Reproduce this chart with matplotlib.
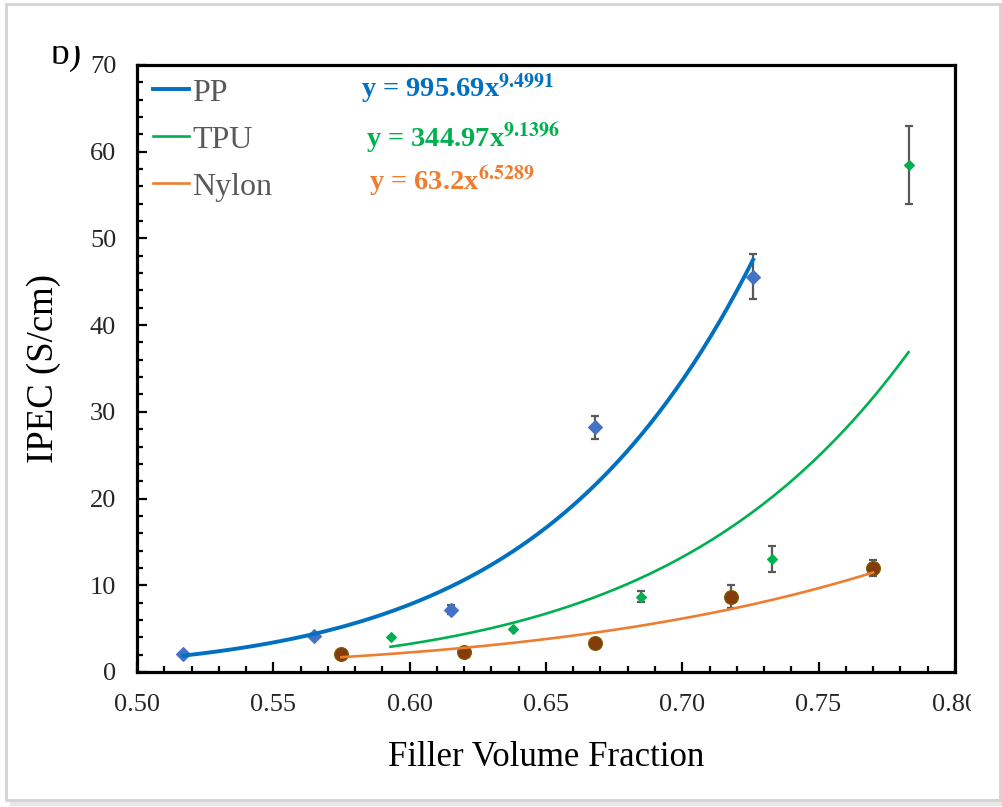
import numpy as np
import matplotlib
matplotlib.use("Agg")
import matplotlib.pyplot as plt
from matplotlib.patches import Rectangle
from matplotlib.transforms import Bbox, TransformedBbox

plt.rcParams['font.family'] = ['Liberation Serif', 'DejaVu Serif']
plt.rcParams['mathtext.fontset'] = 'stix'

# veri
ppX = [0.517, 0.565, 0.615, 0.668, 0.726]
ppY = [2.1, 4.2, 7.2, 28.2, 45.6]
ppErr = [0.0, 0.0, 0.5, 1.3, 2.6]

tpuX = [0.593, 0.638, 0.685, 0.733, 0.783]
tpuY = [4.0, 5.0, 8.7, 13.0, 58.5]
tpuErr = [0.0, 0.0, 0.6, 1.5, 4.5]

nylonX = [0.575, 0.620, 0.668, 0.718, 0.770]
nylonY = [2.1, 2.3, 3.3, 8.7, 12.0]
nylonErr = [0.0, 0.0, 0.0, 1.3, 0.9]

# trend cizgisi katsayilari (y = a * x^b)
ppFit = [995.69, 9.4991]
tpuFit = [344.97, 9.1396]
nylonFit = [63.2, 6.5289]

etiketler = ["PP", "TPU", "Nylon"]
denklemler = [r"y = 995.69x$^{\mathbf{9.4991}}$",
              r"y = 344.97x$^{\mathbf{9.1396}}$",
              r"y = 63.2x$^{\mathbf{6.5289}}$"]

cizgiRenk = ["#0070C0", "#00B050", "#ED7D31"]
noktaRenk = ["#4472C4", "#00B050", "#843C0C"]
hataRenk = "#595959"

W, H = 1003, 807
fig = plt.figure(figsize=(W / 100, H / 100), dpi=100)
ax = fig.add_axes([0.1366, 0.1673, 0.8154, 0.7522])

seriler = [
    (ppX, ppY, ppErr, ppFit, "D", 6.8, 2.8),
    (tpuX, tpuY, tpuErr, tpuFit, "D", 5.6, 1.9),
    (nylonX, nylonY, nylonErr, nylonFit, "o", 10, 1.9),
]

for i, (xs, ys, es, fit, mk, ms, lw) in enumerate(seriler):
    ax.errorbar(xs, ys, yerr=es, fmt="none", ecolor=hataRenk, elinewidth=1.6,
                capsize=3, capthick=1.6, zorder=2)
    ax.plot(xs, ys, linestyle="none", marker=mk, markersize=ms,
            markerfacecolor=noktaRenk[i],
            markeredgecolor="#7F6000" if mk == "o" else noktaRenk[i],
            markeredgewidth=0.8, zorder=3)
    xx = np.linspace(min(xs), max(xs), 200)
    ax.plot(xx, fit[0] * xx ** fit[1], color=cizgiRenk[i], linewidth=lw,
            label=etiketler[i], zorder=4)

ax.set_xlim(0.50, 0.80)
ax.set_ylim(0, 70)
ax.set_xticks(np.arange(0.50, 0.801, 0.05))
ax.set_xticks(np.arange(0.50, 0.801, 0.01), minor=True)
ax.set_xticklabels(["0.50", "0.55", "0.60", "0.65", "0.70", "0.75", "0.80"])
ax.set_yticks(np.arange(0, 71, 10))
ax.set_yticks(np.arange(0, 71, 2), minor=True)

ax.tick_params(which="both", direction="in", width=1.6, colors="black",
               top=False, right=False)
ax.tick_params(which="major", length=7)
ax.tick_params(which="minor", length=4.5)
ax.tick_params(axis="x", which="major", labelsize=19, pad=16, labelcolor="#262626")
ax.tick_params(axis="y", which="major", labelsize=19, pad=15, labelcolor="#262626")
for s in ax.spines.values():
    s.set_linewidth(2.3)

# sagdaki "0.80" etiketi resim kenarinda kesik
kesik = TransformedBbox(Bbox([[0, 0], [971 / W, 1]]), fig.transFigure)
for t in ax.get_xticklabels():
    t.set_clip_on(True)
    t.set_clip_box(kesik)

ax.set_xlabel("Filler Volume Fraction", fontsize=25, labelpad=18)
ax.set_ylabel("IPEC (S/cm)", fontsize=26.5, labelpad=21)

leg = ax.legend(loc="upper left", bbox_to_anchor=(0.019, 0.978), frameon=False,
                fontsize=23, handlelength=1.15, handletextpad=0.1,
                labelspacing=0.55, borderpad=0, borderaxespad=0)
for t in leg.get_texts():
    t.set_color("#595959")

denklemX = [0.582, 0.584, 0.585]
denklemY = [66.3, 60.6, 55.6]
for i in range(3):
    ax.text(denklemX[i], denklemY[i], denklemler[i], color=cizgiRenk[i],
            fontsize=20.5, fontweight="bold", va="baseline", ha="left")

# "b)" etiketi, ust kismi kesik
bEtiket = fig.text(50 / W, 1 - 64 / H, "b)", fontsize=27, va="baseline")
bEtiket.set_clip_on(True)
bEtiket.set_clip_box(TransformedBbox(Bbox([[0, 0], [1, 1 - 46 / H]]), fig.transFigure))

# cerceve ve golge
fig.patches.append(Rectangle((6 / W, 1 - 800 / H), 994 / W, 796 / H,
                             transform=fig.transFigure, fill=False,
                             edgecolor="#d4d4d4", linewidth=2))
fig.patches.append(Rectangle((10 / W, 1 - 806 / H), 992 / W, 7 / H,
                             transform=fig.transFigure, facecolor="#e6e6e6",
                             edgecolor="none", zorder=-1))

fig.savefig("out.png", dpi=100)
